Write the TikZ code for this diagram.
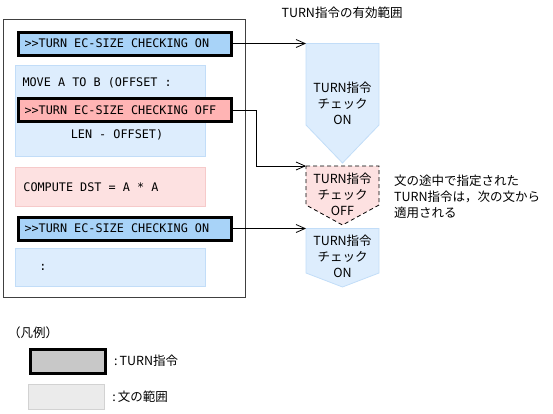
\documentclass[tikz,border=0pt]{standalone}
\usepackage{fontspec}
\setmainfont{Noto Sans CJK JP}
\newfontfamily\codefont{DejaVu Sans Mono}
\usetikzlibrary{arrows.meta}
\definecolor{cmdblue}{HTML}{A8D3F8}
\definecolor{cmdred}{HTML}{FFB4B4}
\definecolor{stmtblue}{HTML}{DDEDFD}
\definecolor{stmtblueline}{HTML}{C2DDF8}
\definecolor{stmtpink}{HTML}{FDE1E1}
\definecolor{stmtpinkline}{HTML}{F6CACA}
\definecolor{legendgray}{HTML}{C8C8C8}
\definecolor{legendlight}{HTML}{EBEBEB}
\definecolor{legendline}{HTML}{D2D2D2}
\tikzset{
	jp/.style={font=\fontsize{12.5}{16}\selectfont},
	code/.style={font=\codefont\fontsize{11.8}{14}\selectfont},
	cmdbox/.style={code,draw=black,line width=3pt,anchor=west,inner xsep=6.5pt,inner ysep=0pt,minimum height=23pt,text width=200pt,align=flush left},
	stmtbox/.style={code,draw=stmtblueline,fill=stmtblue,line width=0.8pt,anchor=north west,inner xsep=8pt,inner ysep=0pt,text width=174pt,align=flush left},
	rangetext/.style={jp,align=center,inner sep=0pt},
	conn/.style={line width=0.8pt,-{Straight Barb[length=9pt,width=8pt]}}
}
\begin{document}
\begin{tikzpicture}[x=1pt,y=-1pt]
	\useasboundingbox (0,0) rectangle (553,413);
	% program frame
	\draw[line width=0.8pt,draw=black!75] (3,19.5) rectangle (245,297);
	% statements
	\node[stmtbox,minimum height=91pt] (move) at (15,65) {};
	\node[code,anchor=west] (movetxt) at (19,83) {MOVE A TO B (OFFSET :};
	\node[code] (lentxt) at (117,135) {LEN - OFFSET)};
	\node[stmtbox,draw=stmtpinkline,fill=stmtpink,minimum height=39pt] (compute) at (15,167) {COMPUTE DST = A * A};
	\node[stmtbox,minimum height=38pt] (rest) at (15,248) {};
	\node[code] (resttxt) at (43,267) {:};
	% TURN directives
	\node[cmdbox,fill=cmdblue] (on1) at (16.5,43.5) {>{}>TURN EC-SIZE CHECKING ON};
	\node[cmdbox,fill=cmdred] (off) at (16.5,110) {>{}>TURN EC-SIZE CHECKING OFF};
	\node[cmdbox,fill=cmdblue] (on2) at (16.5,228.5) {>{}>TURN EC-SIZE CHECKING ON};
	% valid ranges
	\node[jp,anchor=west] (title) at (278,13) {TURN指令の有効範囲};
	\coordinate (p1) at (306,43.5);
	\coordinate (p2) at (306,166);
	\coordinate (p3) at (306,228.5);
	\filldraw[fill=stmtblue,draw=stmtblueline,line width=0.8pt] (306,43.5) -- (379,43.5) -- (379,125) -- (342.5,163) -- (306,125) -- cycle;
	\filldraw[fill=stmtpink,draw=black,dash pattern=on 4pt off 3pt,line width=0.8pt] (306,166) -- (379,166) -- (379,205) -- (342.5,225) -- (306,205) -- cycle;
	\filldraw[fill=stmtblue,draw=stmtblueline,line width=0.8pt] (306,228.5) -- (379,228.5) -- (379,273) -- (342.5,287) -- (306,273) -- cycle;
	\node[rangetext] (r1) at (342.5,103) {TURN指令\\チェック\\ON};
	\node[rangetext] (r2) at (342.5,194) {TURN指令\\チェック\\OFF};
	\node[rangetext] (r3) at (342.5,256) {TURN指令\\チェック\\ON};
	\node[jp,anchor=west,align=left,inner sep=0pt] (note) at (394,197) {文の途中で指定された\\TURN指令は，次の文から\\適用される};
	% connectors
	\draw[conn] (on1.east) -- (p1);
	\draw[conn] (off.east) -- ++(24,0) |- (p2);
	\draw[conn] (on2.east) -- (p3);
	% legend
	\node[jp,anchor=west,inner sep=0pt] (legend) at (8,333) {（凡例）};
	\node[draw=black,fill=legendgray,line width=3pt,minimum width=75pt,minimum height=24pt,anchor=north west] (lcmd) at (28.5,347.5) {};
	\node[jp,anchor=west,xshift=4pt] (lcmdtxt) at (lcmd.east) {:\,TURN指令};
	\node[draw=legendline,fill=legendlight,line width=0.8pt,minimum width=76pt,minimum height=25pt,anchor=north west] (lstmt) at (28,384) {};
	\node[jp,anchor=west,xshift=4pt] (lstmttxt) at (lstmt.east) {:\,文の範囲};
\end{tikzpicture}
\end{document}
